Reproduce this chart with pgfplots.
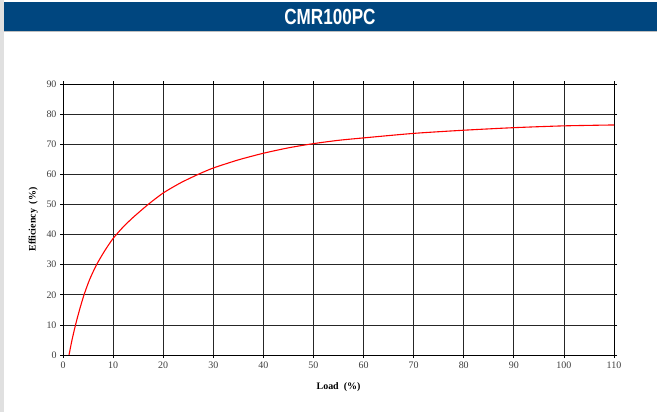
\documentclass[border=0pt]{standalone}
\usepackage{pgfplots}
\pgfplotsset{compat=1.18}
\usepackage{fontspec}
\setmainfont{Liberation Serif}
\newfontfamily\titlefont[FakeStretch=0.78]{Liberation Sans}
\definecolor{hdr}{RGB}{0,70,127}
\begin{document}
\begin{tikzpicture}
\path[use as bounding box] (0,0) rectangle (657bp,412bp);
\fill[white] (0,0) rectangle (657bp,412bp);
\fill[black!12] (0,0) rectangle (4bp,412bp);
\fill[hdr] (4bp,381bp) rectangle (657bp,410bp);
\draw[black!25] (4bp,380.5bp) -- (657bp,380.5bp);
\node[white,font=\titlefont\bfseries\fontsize{22}{22}\selectfont] at (330bp,395.5bp) {CMR100PC};
\begin{axis}[at={(63bp,57bp)},anchor=south west, scale only axis,
  width=551bp,height=271bp,
  xmin=0,xmax=110,ymin=0,ymax=90,
  xtick distance=10, ytick distance=10,
  grid=major, grid style={black!85,line width=0.7pt},
  axis line style={black,line width=1pt},
  tick align=outside, major tick length=3bp,
  tick style={black,line width=0.7pt},
  ticklabel style={font=\fontsize{10}{10}\selectfont, text=black!75},
  /pgf/number format/assume math mode=true,
  xlabel={\textbf{Load\ \ (\%)}},
  ylabel={\textbf{Efficiency\ \ (\%)}},
  label style={font=\fontsize{10}{10}\selectfont},
  xlabel style={at={(axis description cs:0.5,-0.118)},anchor=center},
  ylabel style={at={(axis description cs:-0.054,0.5)},anchor=center},
]
\addplot[red, line width=1.1pt, smooth, tension=0.4] coordinates {
(1.2,0)(1.8,5)(2.5,10)(3.3,15)(4.2,20)(5.3,25)(6.7,30)(8.4,34.8)(10,38.7)(12,42.5)(14,45.7)(17,50)(20,53.8)(23.5,57.2)(27,60)(30,62.1)(35,64.8)(40,67)(45,68.8)(50,70.2)(55,71.3)(60,72.1)(70,73.6)(80,74.65)(90,75.5)(100,76.1)(110,76.4)
};
\end{axis}
\end{tikzpicture}
\end{document}
